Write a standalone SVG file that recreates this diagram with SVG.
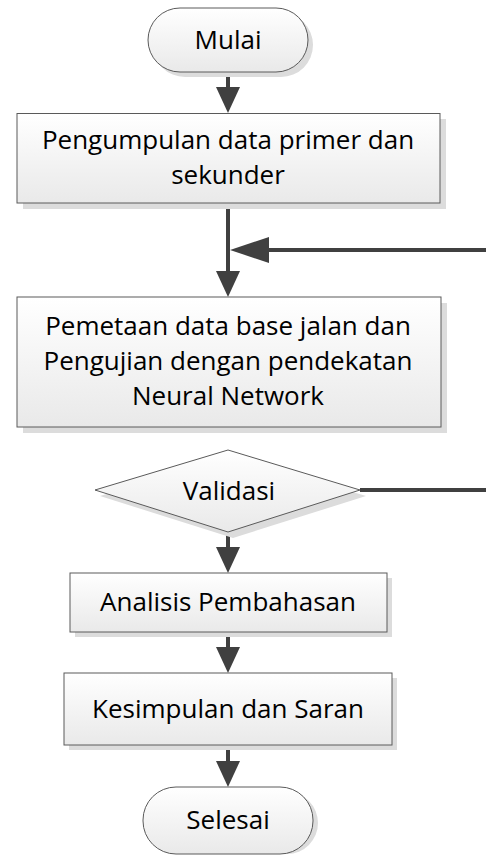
<svg xmlns="http://www.w3.org/2000/svg" width="486" height="859" viewBox="0 0 486 859">
  <style>
    .shape { fill: url(#g); stroke: #5a5a5a; stroke-width: 1; }
    .shadow { fill: #dcdcdc; stroke: none; }
    .txt { font-family: "Open Sans", "Liberation Sans", sans-serif; font-size: 26px; fill: #000; text-anchor: middle; }
    .conn { fill: none; stroke: #404040; stroke-width: 4; }
  </style>
  <defs>
    <linearGradient id="g" x1="0" y1="0" x2="0" y2="1">
      <stop offset="0" stop-color="#ffffff"/>
      <stop offset="1" stop-color="#e9e9e9"/>
    </linearGradient>
    <marker id="arr" markerUnits="userSpaceOnUse" markerWidth="26" markerHeight="24" refX="0" refY="12" orient="auto" overflow="visible">
      <path d="M0,0 L26,12 L0,24 z" fill="#404040"/>
    </marker>
    <marker id="arrBig" markerUnits="userSpaceOnUse" markerWidth="39" markerHeight="26" refX="0" refY="13" orient="auto" overflow="visible">
      <path d="M0,0 L39,13 L0,26 z" fill="#404040"/>
    </marker>
  </defs>

  <g id="connectors">
    <path class="conn" d="M228,72 V87" marker-end="url(#arr)"/>
    <path class="conn" d="M228,203 V271" marker-end="url(#arr)"/>
    <path class="conn" d="M360,490 H489 V250 H269" marker-end="url(#arrBig)"/>
    <path class="conn" d="M228,427 V424" marker-end="url(#arr)"/>
    <path class="conn" d="M228,532 V547" marker-end="url(#arr)"/>
    <path class="conn" d="M228,632 V647" marker-end="url(#arr)"/>
    <path class="conn" d="M228,745 V761" marker-end="url(#arr)"/>
  </g>

  <g id="mulai">
    <rect class="shadow" x="153" y="13" width="160" height="64" rx="32"/>
    <rect class="shape" x="148" y="8" width="160" height="64" rx="32"/>
    <text class="txt" x="228" y="49">Mulai</text>
  </g>

  <g id="pengumpulan">
    <rect class="shadow" x="23" y="119" width="423" height="90"/>
    <rect class="shape" x="17" y="113.5" width="423" height="89.5"/>
    <text class="txt" x="228" y="149">Pengumpulan data primer dan</text>
    <text class="txt" x="228" y="184">sekunder</text>
  </g>

  <g id="pemetaan">
    <rect class="shadow" x="23" y="303" width="424" height="130"/>
    <rect class="shape" x="17" y="297" width="424" height="130"/>
    <text class="txt" x="228" y="335">Pemetaan data base jalan dan</text>
    <text class="txt" x="228" y="370">Pengujian dengan pendekatan</text>
    <text class="txt" x="228" y="405">Neural Network</text>
  </g>

  <g id="validasi">
    <polygon class="shadow" points="233,456 366,496 233,538 100,496"/>
    <polygon class="shape" points="228,450 360,490 228,532 95,490"/>
    <text class="txt" x="229" y="500">Validasi</text>
  </g>

  <g id="analisis">
    <rect class="shadow" x="75" y="578" width="317" height="59"/>
    <rect class="shape" x="70" y="573" width="317" height="59"/>
    <text class="txt" x="228" y="611">Analisis Pembahasan</text>
  </g>

  <g id="kesimpulan">
    <rect class="shadow" x="69" y="678" width="328" height="72"/>
    <rect class="shape" x="64" y="673" width="328" height="72"/>
    <text class="txt" x="228" y="718">Kesimpulan dan Saran</text>
  </g>

  <g id="selesai">
    <rect class="shadow" x="148" y="792" width="170" height="62" rx="31"/>
    <rect class="shape" x="143" y="787" width="170" height="67" rx="33"/>
    <text class="txt" x="228" y="829">Selesai</text>
  </g>
</svg>
